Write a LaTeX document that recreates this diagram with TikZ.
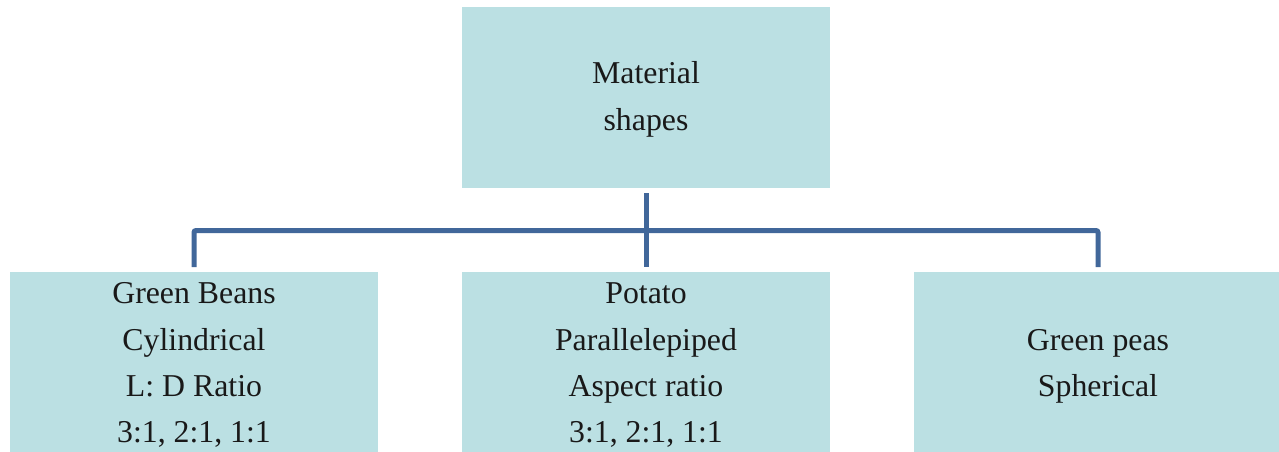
\documentclass[tikz,border=0pt]{standalone}
\usepackage{fontspec}
\setmainfont{Liberation Serif}
\definecolor{boxfill}{HTML}{BBE0E3}
\definecolor{conncol}{HTML}{41679A}
\begin{document}
\begin{tikzpicture}[x=1pt,y=-1pt,
  box/.style={rectangle,fill=boxfill,draw=none,minimum width=368pt,inner sep=0pt,anchor=north},
  lbl/.style={anchor=base,inner sep=0pt,font=\rmfamily\fontsize{31.8}{38}\selectfont,text=black!90},
  conn/.style={draw=conncol,line width=5pt,rounded corners=2pt}]
\clip (0,0) rectangle (1279,451);
\useasboundingbox (0,0) rectangle (1279,451);
\node[box,minimum height=181pt] (top) at (646,7) {};
\node[box,minimum height=220pt] (left) at (194,272) {};
\node[box,minimum height=220pt] (mid) at (646,272) {};
\node[box,minimum height=220pt] (right) at (1098,272) {};
\node[lbl] (t1) at (646,83) {Material};
\node[lbl] (t2) at (646,130) {shapes};
\node[lbl] (l1) at (194,303) {Green Beans};
\node[lbl] (l2) at (194,350) {Cylindrical};
\node[lbl] (l3) at (194,396) {L: D Ratio};
\node[lbl] (l4) at (194,442) {3:1, 2:1, 1:1};
\node[lbl] (m1) at (646,303) {Potato};
\node[lbl] (m2) at (646,350) {Parallelepiped};
\node[lbl] (m3) at (646,396) {Aspect ratio};
\node[lbl] (m4) at (646,442) {3:1, 2:1, 1:1};
\node[lbl] (r1) at (1098,350) {Green peas};
\node[lbl] (r2) at (1098,396) {Spherical};
\coordinate (j) at (646,230.5);
\draw[conn,shorten <=5pt] (top.south) -- (j);
\draw[conn,shorten >=5pt] (j) -| (left.north);
\draw[conn,shorten >=5pt] (j) -| (right.north);
\draw[conn,shorten >=5pt] (j) -- (mid.north);
\end{tikzpicture}
\end{document}
